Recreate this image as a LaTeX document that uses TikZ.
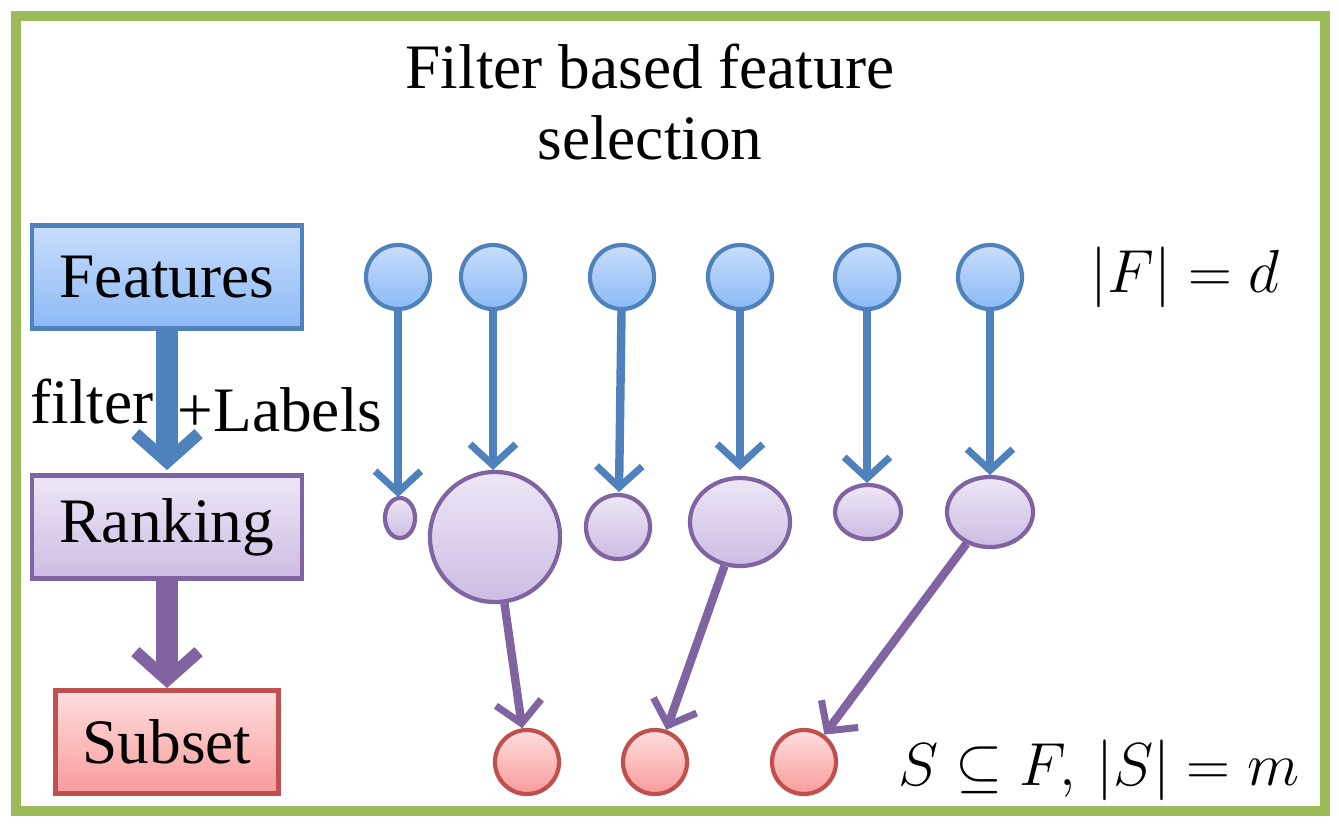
\documentclass[tikz,border=0pt]{standalone}
\usepackage{fontspec}
\setmainfont{Liberation Serif}
\usetikzlibrary{arrows.meta,shapes.geometric}
\definecolor{bluebd}{RGB}{79,129,189}
\definecolor{bluetop}{RGB}{200,222,252}
\definecolor{bluebot}{RGB}{140,185,245}
\definecolor{purbd}{RGB}{128,100,162}
\definecolor{purtop}{RGB}{238,230,246}
\definecolor{purbot}{RGB}{205,188,228}
\definecolor{redbd}{RGB}{192,80,77}
\definecolor{redtop}{RGB}{255,222,222}
\definecolor{redbot}{RGB}{248,155,155}
\definecolor{frame}{RGB}{155,187,89}
\tikzset{
  feat/.style={draw=bluebd,line width=1.2pt,top color=bluetop,bottom color=bluebot},
  rank/.style={draw=purbd,line width=1.2pt,top color=purtop,bottom color=purbot},
  subs/.style={draw=redbd,line width=1.2pt,top color=redtop,bottom color=redbot},
  box/.style={rectangle,minimum width=2.7cm,minimum height=1.03cm,font=\fontsize{18}{22}\selectfont},
  dot/.style={circle,inner sep=0pt},
  oval/.style={ellipse,inner sep=0pt},
  bigarr/.style={line width=6pt,-{Straight Barb[length=8pt,width=18pt,line width=3.5pt]}},
  thinarr/.style={line width=2.4pt,-{Straight Barb[length=6pt,width=13pt,line width=2pt]}},
  lbl/.style={font=\fontsize{18}{22}\selectfont},
  mth/.style={font=\fontsize{16}{20}\selectfont}
}
\begin{document}
\begin{tikzpicture}[x=0.01cm,y=-0.01cm]
\useasboundingbox (0,0) rectangle (1339,826);
\draw [frame,line width=3pt] (16,16) rectangle (1325,811);
\node [lbl,align=center] (title) at (650,102) {Filter based feature\\[-2pt]selection};
% boxes on the left
\node [box,feat] (feats) at (167,277) {Features};
\node [box,rank] (rank) at (167,527) {Ranking};
\node [box,subs,minimum width=2.23cm] (subset) at (167,742) {Subset};
\draw [bigarr,bluebd] (feats) -- (167,470);
\draw [bigarr,purbd] (rank) -- (167,688);
\node [lbl] (filt) at (92,402) {filter};
\node [lbl] (labs) at (280,410) {+Labels};
% features
\foreach \n/\x in {1/398,2/493,3/622,4/740,5/867,6/990}
  \node [dot,feat,minimum size=0.64cm] (f\n) at (\x,277) {};
% ranked features
\node [oval,rank,minimum width=0.30cm,minimum height=0.40cm] (r1) at (400,518) {};
\node [dot,rank,minimum size=1.30cm] (r2) at (495,537) {};
\node [dot,rank,minimum size=0.64cm] (r3) at (618,527) {};
\node [oval,rank,minimum width=1.00cm,minimum height=0.88cm] (r4) at (740,522) {};
\node [oval,rank,minimum width=0.66cm,minimum height=0.54cm] (r5) at (868,512) {};
\node [oval,rank,minimum width=0.86cm,minimum height=0.70cm] (r6) at (990,512) {};
% selected subset
\foreach \n/\x in {1/527,2/655,3/804}
  \node [dot,subs,minimum size=0.64cm] (s\n) at (\x,762) {};
\draw [thinarr,bluebd] (f1) -- (398,497);
\draw [thinarr,bluebd] (f2) -- (493,470);
\draw [thinarr,bluebd] (f3) -- (619,492);
\draw [thinarr,bluebd] (f4) -- (740,470);
\draw [thinarr,bluebd] (f5) -- (867,483);
\draw [thinarr,bluebd] (f6) -- (990,475);
\draw [thinarr,purbd] (r2) -- (s1);
\draw [thinarr,purbd] (r4) -- (s2);
\draw [thinarr,purbd] (r6) -- (s3);
\node [mth,anchor=east] (fd) at (1292,277) {$|F| = d$};
\node [mth,anchor=east] (sm) at (1312,770) {$S\subseteq F,\, |S| = m$};
\end{tikzpicture}
\end{document}
